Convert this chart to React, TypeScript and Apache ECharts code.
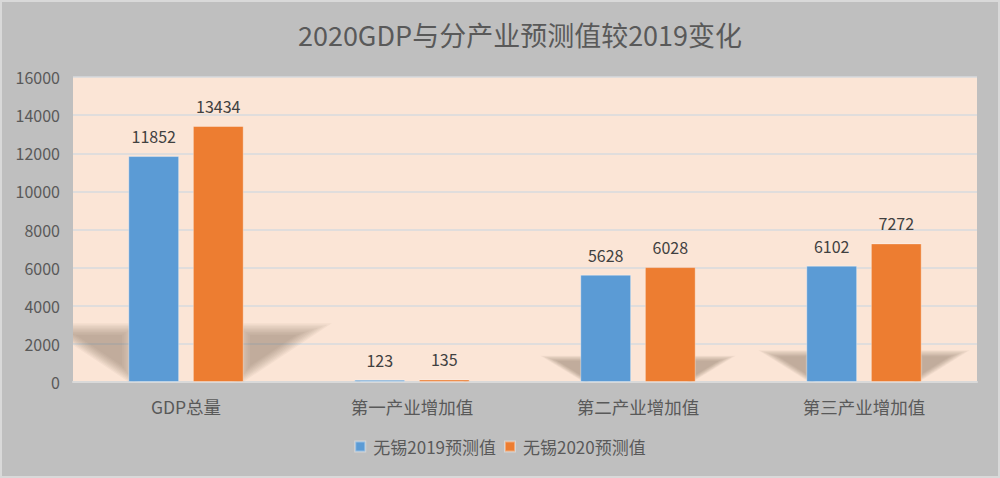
import React, { useEffect, useRef } from "react";
import * as echarts from "echarts";

const categories = ["GDP总量", "第一产业增加值", "第二产业增加值", "第三产业增加值"];
const series2019 = [11852, 123, 5628, 6102];
const series2020 = [13434, 135, 6028, 7272];
const seriesNames = ["无锡2019预测值", "无锡2020预测值"];
const titleText = "2020GDP与分产业预测值较2019变化";
const FONT = "'Noto Sans CJK SC', 'Noto Sans', sans-serif";

function scalePts(pts: number[][], s: number) {
  const cx = (pts[0][0] + pts[1][0] + pts[2][0]) / 3;
  const cy = (pts[0][1] + pts[1][1] + pts[2][1]) / 3;
  return pts.map((p) => [cx + (p[0] - cx) * s, cy + (p[1] - cy) * s]);
}

export default function App() {
  const ref = useRef<HTMLDivElement>(null);
  useEffect(() => {
    if (!ref.current) return;
    const chart = echarts.init(ref.current, undefined, { renderer: "svg" });
    const shadowData = categories.map((_, i) => [i, Math.max(series2019[i], series2020[i])]);
    const layerColor = "rgba(120,95,80,0.06)";
    const layers = [1.2, 1.12, 1.04, 0.96, 0.88, 0.8, 0.72, 0.64, 0.56];
    chart.setOption({
      animation: false,
      backgroundColor: "#bfbfbf",
      textStyle: { fontFamily: FONT },
      title: {
        text: titleText,
        left: 515,
        textAlign: "center",
        top: 16,
        textStyle: { fontSize: 27, fontWeight: "normal", color: "#595959", fontFamily: FONT },
      },
      legend: {
        data: seriesNames,
        bottom: 18,
        left: "center",
        itemWidth: 10,
        itemHeight: 10,
        itemGap: 8,
        icon: "rect",
        textStyle: { fontSize: 17, color: "#595959", fontFamily: FONT, padding: [0, 0, 0, 3] },
      },
      grid: {
        left: 73,
        right: 23,
        top: 77,
        bottom: 96,
        show: true,
        backgroundColor: "#fbe5d6",
        borderWidth: 0,
      },
      graphic: [
        {
          type: "rect",
          shape: { x: 1, y: 1, width: 998, height: 476 },
          style: { fill: "none", stroke: "#d9d9d9", lineWidth: 2 },
          z: 100,
        },
      ],
      xAxis: {
        type: "category",
        data: categories,
        axisTick: { show: false },
        axisLine: { lineStyle: { color: "#d9d9d9", width: 2 } },
        axisLabel: { fontSize: 17.5, color: "#595959", margin: 16, fontFamily: FONT },
      },
      yAxis: {
        type: "value",
        min: 0,
        max: 16000,
        interval: 2000,
        axisLine: { show: false },
        axisTick: { show: false },
        axisLabel: {
          fontSize: 16,
          color: "#595959",
          margin: 13,
          fontFamily: FONT,
          formatter: (v: number) => String(v),
        },
        splitLine: { lineStyle: { color: "#d7dade", width: 1.5 } },
      },
      series: [
        {
          type: "custom",
          name: "shadow",
          clip: true,
          z: 1,
          silent: true,
          data: shadowData,
          renderItem: (params: any, api: any) => {
            const idx = api.value(0);
            const v = api.value(1);
            const base = api.coord([idx, 0]);
            const top = api.coord([idx, v]);
            const catW = api.size([1, 0])[0];
            const bw = catW * 0.225;
            const gap = bw * 0.27;
            const L = base[0] - gap / 2 - bw;
            const R = base[0] + gap / 2 + bw;
            const barH = base[1] - top[1];
            const h = barH * 0.215;
            const dx = h * 1.4;
            const y0 = base[1];
            const leftTri = [[L + 6, y0], [L - dx, y0 - h], [L + 6, y0 - h]];
            const rightTri = [[R - 6, y0], [R + dx, y0 - h], [R - 6, y0 - h]];
            const children: any[] = [];
            layers.forEach((s) => {
              children.push({
                type: "polygon",
                shape: { points: scalePts(leftTri, s) },
                style: { fill: layerColor },
              });
              children.push({
                type: "polygon",
                shape: { points: scalePts(rightTri, s) },
                style: { fill: layerColor },
              });
            });
            return { type: "group", children };
          },
        },
        {
          type: "bar",
          name: seriesNames[0],
          data: series2019,
          z: 2,
          barWidth: "22.5%",
          barGap: "27%",
          itemStyle: { color: "#5b9bd5", borderColor: "rgba(255,255,255,0.35)", borderWidth: 1 },
          label: { show: true, position: "top", distance: 12, fontSize: 16, color: "#404040", fontFamily: FONT },
        },
        {
          type: "bar",
          name: seriesNames[1],
          data: series2020,
          z: 2,
          barWidth: "22.5%",
          barGap: "27%",
          itemStyle: { color: "#ed7d31", borderColor: "rgba(255,255,255,0.35)", borderWidth: 1 },
          label: { show: true, position: "top", distance: 12, fontSize: 16, color: "#404040", fontFamily: FONT },
        },
      ],
    });
    return () => chart.dispose();
  }, []);
  return (
    <div
      ref={ref}
      style={{ position: "absolute", left: 0, top: 0, width: 1000, height: 478 }}
    />
  );
}
